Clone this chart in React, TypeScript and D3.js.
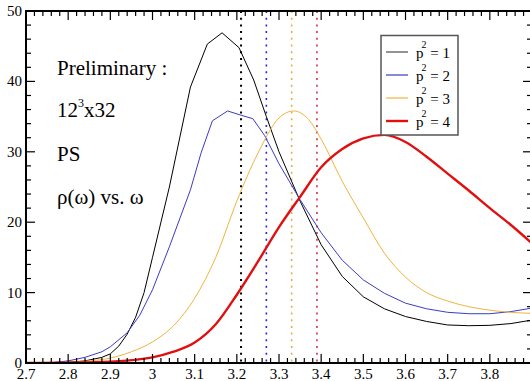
import React from "react";
import * as d3 from "d3";

const W = 530;
const H = 381;

const blackW = [2.7, 2.76, 2.8, 2.84, 2.88, 2.9, 2.92, 2.94, 2.96, 2.98, 3.0, 3.04, 3.09, 3.13, 3.165, 3.205, 3.24, 3.27, 3.3, 3.35, 3.4, 3.45, 3.5, 3.55, 3.6, 3.65, 3.7, 3.75, 3.8, 3.85, 3.9];
const blackR = [0, 0.02, 0.1, 0.3, 0.8, 1.3, 2.4, 4.1, 6.5, 10.0, 15.0, 25.0, 39.2, 45.3, 46.9, 44.8, 40.2, 35.0, 30.0, 23.0, 16.8, 12.3, 9.4, 7.7, 6.6, 5.9, 5.4, 5.3, 5.35, 5.6, 6.1];

const blueW = [2.7, 2.76, 2.8, 2.84, 2.88, 2.9, 2.94, 2.97, 3.0, 3.04, 3.09, 3.115, 3.142, 3.178, 3.21, 3.238, 3.266, 3.3, 3.35, 3.4, 3.45, 3.5, 3.55, 3.6, 3.65, 3.7, 3.75, 3.8, 3.85, 3.9];
const blueR = [0, 0.05, 0.3, 0.8, 1.6, 2.3, 4.3, 6.8, 10.4, 16.5, 24.6, 29.8, 34.4, 35.8, 35.2, 34.7, 32.3, 28.3, 23.2, 18.5, 14.6, 11.8, 9.9, 8.5, 7.7, 7.2, 7.0, 7.0, 7.3, 7.8];

const orangeW = [2.7, 2.8, 2.85, 2.9, 2.95, 3.0, 3.05, 3.1, 3.15, 3.2, 3.25, 3.3, 3.335, 3.37, 3.4, 3.45, 3.5, 3.55, 3.6, 3.65, 3.7, 3.75, 3.8, 3.85, 3.9];
const orangeR = [0, 0.1, 0.3, 0.7, 1.6, 3.0, 5.3, 9.2, 15.0, 23.0, 29.8, 34.8, 35.8, 34.6, 31.8, 25.8, 20.6, 15.6, 12.2, 10.0, 8.8, 8.0, 7.5, 7.2, 7.05];

const redW = [2.7, 2.8, 2.9, 3.0, 3.05, 3.1, 3.15, 3.2, 3.25, 3.3, 3.35, 3.4, 3.45, 3.5, 3.55, 3.6, 3.65, 3.7, 3.75, 3.8, 3.85, 3.9];
const redR = [0, 0.05, 0.2, 0.8, 1.6, 2.9, 5.5, 9.7, 14.4, 19.3, 23.6, 27.8, 30.4, 31.9, 32.4, 31.4, 29.3, 26.9, 24.5, 22.0, 19.6, 17.0];

const peakMarkers = [3.21, 3.27, 3.33, 3.39];
const labels = ["1", "2", "3", "4"];
const xTicks = [2.7, 2.8, 2.9, 3.0, 3.1, 3.2, 3.3, 3.4, 3.5, 3.6, 3.7, 3.8];
const xTickLabels = ["2.7", "2.8", "2.9", "3", "3.1", "3.2", "3.3", "3.4", "3.5", "3.6", "3.7", "3.8"];
const yTicks = [0, 10, 20, 30, 40, 50];

const seriesColors = ["#000000", "#3b3bc4", "#f0b43c", "#e01010"];
const markerColors = ["#000000", "#2626e0", "#e0b040", "#d03050"];
const seriesWidths = [1, 1, 1, 2.4];

const FONT = "\"Liberation Serif\", \"Tinos\", \"Times New Roman\", \"DejaVu Serif\", serif";

export default function App() {
  const left = 26, right = 532, top = 11, bottom = 363;
  const x = d3.scaleLinear().domain([2.7, 3.9]).range([left, right]);
  const y = d3.scaleLinear().domain([0, 50]).range([bottom, top]);

  const series = [
    { w: blackW, r: blackR, curve: d3.curveLinear },
    { w: blueW, r: blueR, curve: d3.curveLinear },
    { w: orangeW, r: orangeR, curve: d3.curveMonotoneX },
    { w: redW, r: redR, curve: d3.curveMonotoneX },
  ];

  const xMinor = d3.range(0, 61).map((i) => 2.7 + i * 0.02);
  const yMinor = d3.range(0, 26).map((i) => i * 2);

  const majorLen = 9, minorLen = 5;

  return (
    <svg width={W} height={H} style={{ position: "absolute", left: 0, top: 0, background: "#fff" }}>
      <defs>
        <clipPath id="plot">
          <rect x={left} y={top} width={right - left} height={bottom - top} />
        </clipPath>
      </defs>
      <rect x={0} y={0} width={W} height={H} fill="#fff" />

      {peakMarkers.map((m, i) => (
        <line key={"m" + i} x1={x(m)} x2={x(m)} y1={top} y2={bottom} stroke={markerColors[i]} strokeWidth={i === 0 ? 2 : 1.6} strokeDasharray="2,4.7" />
      ))}

      <g clipPath="url(#plot)">
        {series.map((s, i) => {
          const gen = d3.line<number>().x((d, j) => x(s.w[j])).y((d) => y(d)).curve(s.curve);
          return <path key={"s" + i} d={gen(s.r) || ""} fill="none" stroke={seriesColors[i]} strokeWidth={seriesWidths[i]} strokeLinejoin="round" />;
        })}
      </g>

      <g stroke="#000" strokeWidth={1.2}>
        {xMinor.map((v, i) => {
          const major = i % 5 === 0;
          const L = major ? majorLen : minorLen;
          return (
            <g key={"xt" + i}>
              <line x1={x(v)} x2={x(v)} y1={bottom} y2={bottom - L} />
              <line x1={x(v)} x2={x(v)} y1={top} y2={top + L} />
            </g>
          );
        })}
        {yMinor.map((v, i) => {
          const major = i % 5 === 0;
          const L = major ? majorLen : minorLen;
          return (
            <g key={"yt" + i}>
              <line x1={left} x2={left + L} y1={y(v)} y2={y(v)} />
              <line x1={right} x2={right - L} y1={y(v)} y2={y(v)} />
            </g>
          );
        })}
      </g>

      <rect x={left} y={top} width={right - left} height={bottom - top} fill="none" stroke="#000" strokeWidth={2} />

      {xTicks.map((v, i) => (
        <text key={"xl" + i} x={x(v)} y={379} textAnchor="middle" fontSize={15} fill="#000" fontFamily={FONT}>
          {xTickLabels[i]}
        </text>
      ))}
      {yTicks.map((v, i) => (
        <text key={"yl" + i} x={22} y={y(v) + 5} textAnchor="end" fontSize={15} fill="#000" fontFamily={FONT}>
          {v}
        </text>
      ))}

      <g fontSize={21} fill="#000">
        <text x={57} y={75} fontFamily={FONT}>Preliminary :</text>
        <text x={57} y={117} fontFamily={FONT}>
          12<tspan fontSize={12} dy={-10}>3</tspan>
          <tspan dy={10}>x32</tspan>
        </text>
        <text x={57} y={161} fontFamily={FONT}>PS</text>
        <text x={57} y={204} fontFamily={FONT}>ρ(ω) vs. ω</text>
      </g>

      <rect x={381} y={35.5} width={77} height={99.5} fill="#fff" stroke="#555" strokeWidth={1.5} />
      {labels.map((l, i) => {
        const ly = 52 + i * 23;
        return (
          <g key={"lg" + i}>
            <line x1={386} x2={408} y1={ly} y2={ly} stroke={seriesColors[i]} strokeWidth={seriesWidths[i] === 1 ? 1.2 : 2.4} opacity={i === 0 ? 0.7 : 1} />
            <text x={416} y={ly + 6} fontSize={15} fill="#000" fontFamily={FONT}>
              p<tspan fontSize={10} dx={-2} dy={-10}>2</tspan>
              <tspan dy={10}> = {l}</tspan>
            </text>
          </g>
        );
      })}
    </svg>
  );
}
